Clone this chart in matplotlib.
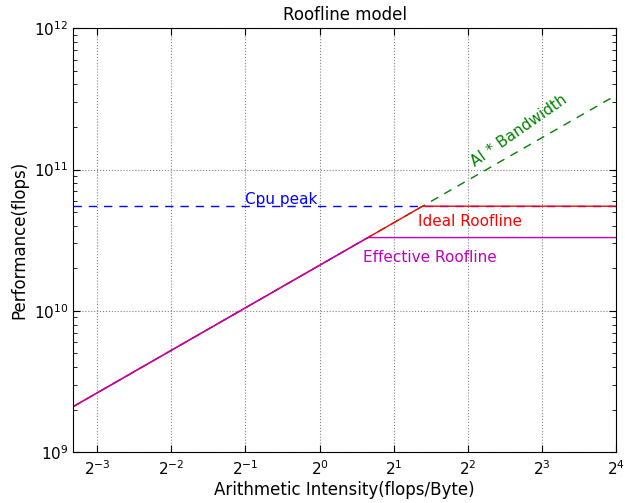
import matplotlib
matplotlib.use('Agg')
import matplotlib.pyplot as plt
import numpy as np
from matplotlib.ticker import LogLocator, NullLocator

# roofline parameters
ai = [0.1, 16.0]          # arithmetic intensity range (flops/Byte)
bandwidth = 2.1e10        # bytes/s
cpu_peak = 5.5e10         # flops
effective_peak = 3.3e10   # flops

plt.rcParams['xtick.direction'] = 'in'
plt.rcParams['ytick.direction'] = 'in'
plt.rcParams['xtick.top'] = True
plt.rcParams['ytick.right'] = True
plt.rcParams['mathtext.default'] = 'regular'
plt.rcParams['axes.unicode_minus'] = False

fig = plt.figure(figsize=(6.25, 5.03), dpi=100)
ax = fig.add_axes([0.117, 0.101, 0.869, 0.843])

x = np.logspace(np.log10(ai[0]), np.log10(ai[1]), 400)
ax.plot(x, x * bandwidth, '--', color='green', lw=1, dashes=(6, 5))
ax.plot(ai, [cpu_peak, cpu_peak], '--', color='blue', lw=1, dashes=(6, 5))
ax.plot(x, np.minimum(x * bandwidth, cpu_peak), color='red', lw=1)
ax.plot(x, np.minimum(x * bandwidth, effective_peak), color='m', lw=1)

ax.set_xscale('log', base=2)
ax.set_yscale('log')
ax.set_xlim(ai[0], ai[1])
ax.set_ylim(1e9, 1e12)
ax.xaxis.set_major_locator(LogLocator(base=2))
ax.xaxis.set_minor_locator(NullLocator())
ax.grid(True, which='major', linestyle=':', color='gray', lw=0.8)
ax.tick_params(which='major', length=5, labelsize=11)
ax.tick_params(which='minor', length=3)
ax.tick_params(axis='x', pad=5)

ax.text(0.5, cpu_peak * 1.04, 'Cpu peak', color='blue', fontsize=11)
ax.text(2.5, cpu_peak * 0.78, 'Ideal Roofline', color='red', fontsize=11, va='center')
ax.text(1.5, effective_peak * 0.72, 'Effective Roofline', color='m', fontsize=11, va='center')
ax.text(4.0, 1.05e11, 'AI * Bandwidth', color='green', fontsize=11, rotation=35)

ax.set_title('Roofline model', fontsize=12)
ax.set_xlabel('Arithmetic Intensity(flops/Byte)', fontsize=12, labelpad=2)
ax.set_ylabel('Performance(flops)', fontsize=12)

fig.savefig('out.png', dpi=100, facecolor='white')
